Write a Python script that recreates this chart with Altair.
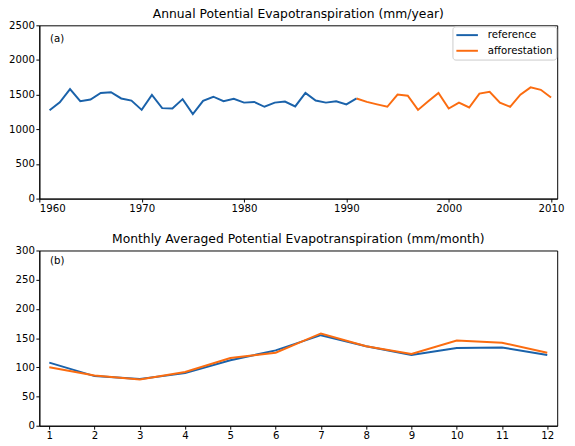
import altair as alt
import pandas as pd

# ---- data ----
years_ref = list(range(1961, 1992))
pet_ref = [1275, 1390, 1580, 1405, 1430, 1525, 1535, 1445, 1415, 1280, 1495,
           1305, 1300, 1435, 1220, 1410, 1470, 1405, 1440, 1385, 1395, 1325,
           1385, 1400, 1330, 1525, 1415, 1385, 1405, 1360, 1445]
years_aff = list(range(1991, 2011))
pet_aff = [1445, 1395, 1360, 1325, 1500, 1485, 1280, 1405, 1525, 1300,
           1385, 1315, 1515, 1540, 1385, 1325, 1500, 1605, 1570, 1460]

months = list(range(1, 13))
mon_ref = [108, 85, 80, 90, 112, 129, 155, 136, 121, 133, 134, 121]
mon_aff = [100, 86, 79, 92, 116, 125, 158, 136, 123, 146, 142, 125]

series = ["reference", "afforestation"]
colors = ["#1a62aa", "#fb6c10"]
year_ticks = [1960, 1970, 1980, 1990, 2000, 2010]
annual_ticks = [0, 500, 1000, 1500, 2000, 2500]
monthly_ticks = [0, 50, 100, 150, 200, 250, 300]

annual = pd.DataFrame(
    {"year": years_ref + years_aff,
     "pet": pet_ref + pet_aff,
     "run": ["reference"] * len(years_ref) + ["afforestation"] * len(years_aff)}
)
monthly = pd.DataFrame(
    {"month": months + months,
     "pet": mon_ref + mon_aff,
     "run": ["reference"] * 12 + ["afforestation"] * 12}
)

FONT = "DejaVu Sans"
LFS = 10.4
TFS = 12.6
W = 529
H1 = 177
H2 = 179

color = alt.Color(
    "run:N",
    scale=alt.Scale(domain=series, range=colors),
    legend=alt.Legend(
        title=None, orient="none", legendX=422, legendY=1,
        symbolType="M-1,0H3.4", symbolSize=100, symbolStrokeWidth=2,
        symbolFillColor="transparent",
        labelFont=FONT, labelFontSize=LFS, labelColor="black", labelOffset=21,
        fillColor="white", strokeColor="#cccccc", cornerRadius=3,
        padding=3, rowPadding=4,
    ),
)

yaxis_common = dict(title=None, format="d", minExtent=30, maxExtent=30)

top_lines = alt.Chart(annual).mark_line(strokeWidth=2).encode(
    x=alt.X("year:Q", scale=alt.Scale(domain=[1960, 2010.6], nice=False, zero=False),
            axis=alt.Axis(title=None, values=year_ticks, format="d")),
    y=alt.Y("pet:Q", scale=alt.Scale(domain=[0, 2500], nice=False),
            axis=alt.Axis(values=annual_ticks, **yaxis_common)),
    color=color,
    detail="run:N",
)
top_label = alt.Chart(pd.DataFrame({"t": ["(a)"]})).mark_text(
    align="left", baseline="middle", font=FONT, fontSize=LFS, color="black"
).encode(x=alt.value(11), y=alt.value(14), text="t:N")

top = alt.layer(top_lines, top_label).properties(
    width=W, height=H1,
    title=alt.TitleParams("Annual Potential Evapotranspiration (mm/year)",
                          font=FONT, fontSize=TFS, fontWeight="normal",
                          color="black", offset=0),
)

bot_lines = alt.Chart(monthly).mark_line(strokeWidth=2).encode(
    x=alt.X("month:Q", scale=alt.Scale(domain=[0.78, 12.22], nice=False, zero=False),
            axis=alt.Axis(title=None, values=months, format="d")),
    y=alt.Y("pet:Q", scale=alt.Scale(domain=[0, 300], nice=False),
            axis=alt.Axis(values=monthly_ticks, **yaxis_common)),
    color=color,
    detail="run:N",
)
bot_label = alt.Chart(pd.DataFrame({"t": ["(b)"]})).mark_text(
    align="left", baseline="middle", font=FONT, fontSize=LFS, color="black"
).encode(x=alt.value(11), y=alt.value(11), text="t:N")

bottom = alt.layer(bot_lines, bot_label).properties(
    width=W, height=H2,
    title=alt.TitleParams("Monthly Averaged Potential Evapotranspiration (mm/month)",
                          font=FONT, fontSize=TFS, fontWeight="normal",
                          color="black", offset=0),
)

chart = alt.vconcat(top, bottom, spacing=18).properties(
    padding={"left": 0, "top": -6, "right": 2, "bottom": 0}
).configure_axis(
    grid=False,
    labelFont=FONT, labelFontSize=LFS, labelColor="black", labelPadding=1.5,
    tickColor="black", tickSize=3.5, tickWidth=1,
    domainColor="black", domainWidth=1,
).configure_view(
    stroke="black", strokeWidth=1
)

chart.save("out.html", embed_options={"renderer": "svg", "actions": False})
